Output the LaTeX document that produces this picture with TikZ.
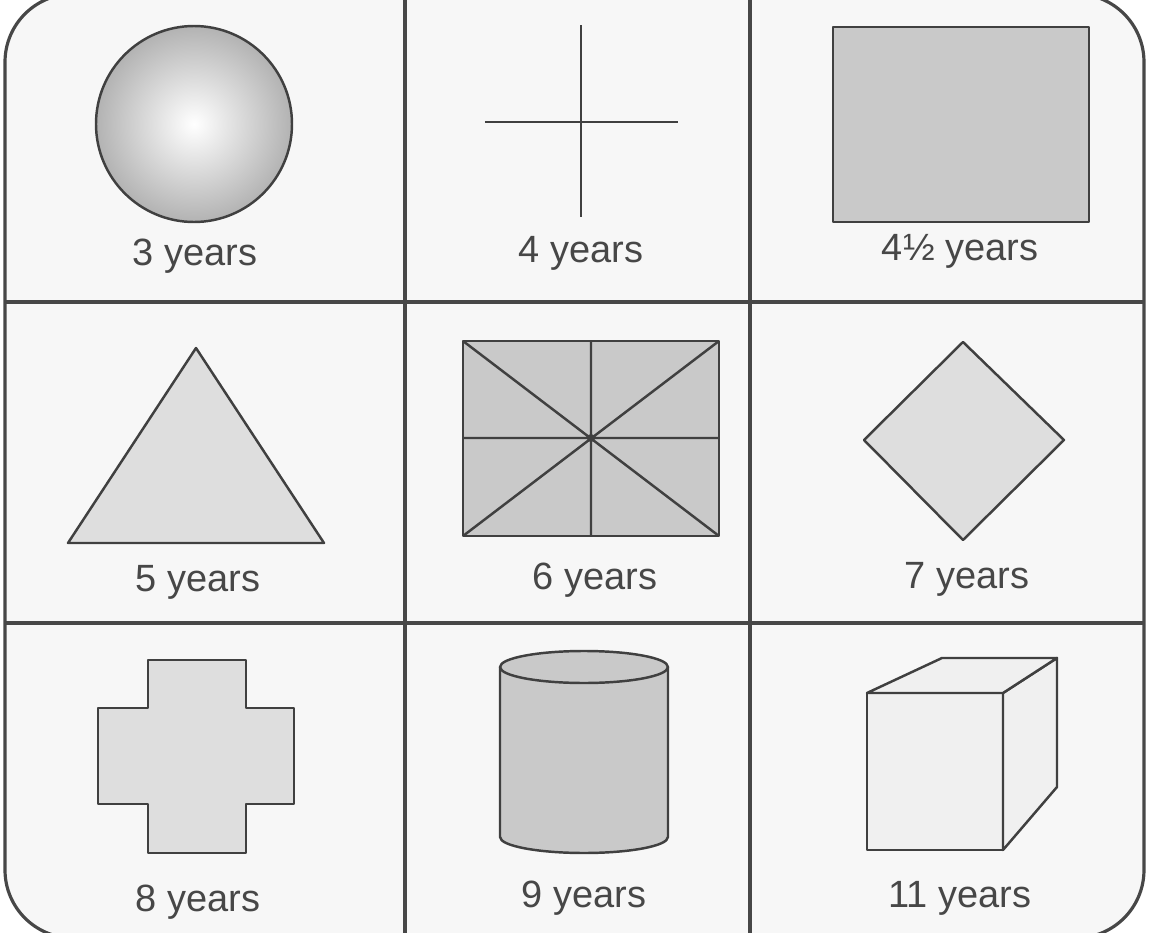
\documentclass[tikz,border=0pt]{standalone}
\usepackage{fontspec}
\setmainfont{Liberation Sans}
\begin{document}
\begin{tikzpicture}[x=0.01cm,y=-0.01cm,
  gridline/.style={draw=black!72,line width=0.9pt},
  outl/.style={draw=black!75,line width=0.7pt,line join=round},
  darkfill/.style={outl,fill=black!21},
  lightfill/.style={outl,fill=black!13},
  pale/.style={outl,fill=black!6},
  lbl/.style={font=\fontsize{10.8}{12}\selectfont,text=black!72,inner sep=0pt}]
\useasboundingbox (0,0) rectangle (1150,933);
\begin{scope}
\clip (0,0) rectangle (1150,933);
\draw[gridline,fill=black!3,rounded corners=0.68cm] (5,-6) rectangle (1144,938);
\end{scope}
% grid
\draw[gridline] (405,0) -- (405,933);
\draw[gridline] (750,0) -- (750,933);
\draw[gridline] (5,302) -- (1144,302);
\draw[gridline] (5,623) -- (1144,623);
% 3 years: sphere
\draw[outl,inner color=white,outer color=black!30] (194,124) circle (98);
\node[lbl] (l3) at (195,256) {3 years};
% 4 years: cross lines
\draw[outl] (485,122) -- (678,122);
\draw[outl] (581,25) -- (581,217);
\node[lbl] (l4) at (581,253) {4 years};
% 4 1/2 years: square
\draw[darkfill] (833,27) rectangle (1089,222);
\node[lbl] (l45) at (960,251) {4½ years};
% 5 years: triangle
\draw[lightfill] (196,348) -- (324,543) -- (68,543) -- cycle;
\node[lbl] (l5) at (198,582) {5 years};
% 6 years: divided rectangle
\draw[darkfill] (463,341) rectangle (719,536);
\draw[outl] (463,341) -- (719,536) (463,536) -- (719,341)
  (591,341) -- (591,536) (463,438) -- (719,438);
\fill[black!75] (591,438) circle (4);
\node[lbl] (l6) at (595,580) {6 years};
% 7 years: diamond
\draw[lightfill] (963,342) -- (1064,440) -- (963,540) -- (864,440) -- cycle;
\node[lbl] (l7) at (967,579) {7 years};
% 8 years: plus shape
\draw[lightfill] (148,660) -- (246,660) -- (246,708) -- (294,708) -- (294,804)
  -- (246,804) -- (246,853) -- (148,853) -- (148,804) -- (98,804) -- (98,708)
  -- (148,708) -- cycle;
\node[lbl] (l8) at (198,902) {8 years};
% 9 years: cylinder
\draw[darkfill] (500,667) -- (500,837) arc[start angle=180,end angle=360,x radius=84,y radius=-16]
  -- (668,667);
\draw[darkfill] (584,667) ellipse [x radius=84,y radius=16];
\node[lbl] (l9) at (584,898) {9 years};
% 11 years: cube
\draw[pale] (867,693) rectangle (1003,850);
\draw[pale] (1003,693) -- (1057,658) -- (1057,787) -- (1003,850) -- cycle;
\draw[pale] (867,693) -- (942,658) -- (1057,658) -- (1003,693) -- cycle;
\node[lbl] (l11) at (960,898) {11 years};
\end{tikzpicture}
\end{document}
